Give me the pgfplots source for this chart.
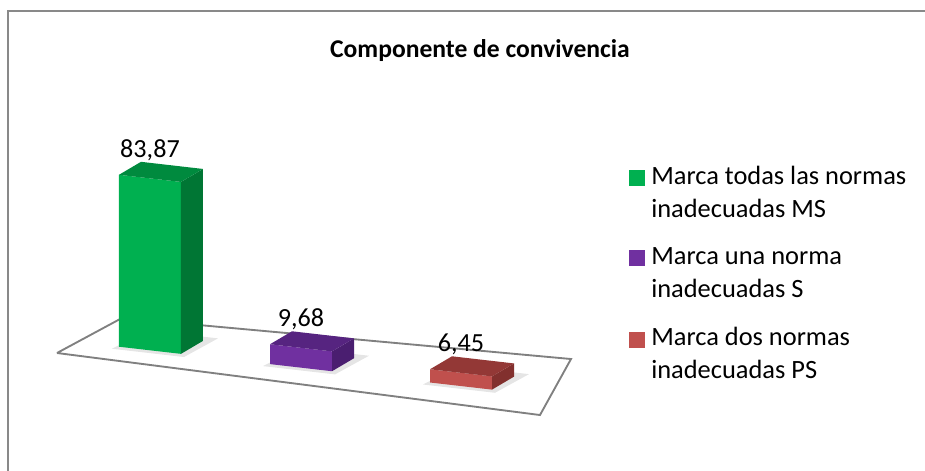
\documentclass[border=0pt]{standalone}
\usepackage{pgfplots}
\pgfplotsset{compat=1.18}
\usepackage{fontspec}
\setmainfont{Carlito}
\usetikzlibrary{calc}
\definecolor{gFront}{RGB}{0,176,80}
\definecolor{gTop}{RGB}{0,138,62}
\definecolor{gSide}{RGB}{0,118,52}
\definecolor{pFront}{RGB}{112,48,160}
\definecolor{pTop}{RGB}{86,36,128}
\definecolor{pSide}{RGB}{74,30,112}
\definecolor{rFront}{RGB}{192,80,77}
\definecolor{rTop}{RGB}{147,56,54}
\definecolor{rSide}{RGB}{130,48,46}
\definecolor{floorGray}{RGB}{128,128,128}
\definecolor{frameGray}{RGB}{137,137,137}
\begin{document}
\begin{tikzpicture}
\begin{axis}[
  x={(0.75pt,-0.08625pt)}, y={(0.75pt,0.4425pt)}, z={(0pt,1.5375pt)},
  xmin=0, xmax=500, ymin=-10, ymax=80, zmin=0, zmax=100,
  hide axis, clip=false,
  /pgf/number format/assume math mode=true,
  legend style={at={(axis description cs:0.980,0.802)}, anchor=north west,
    draw=none, fill=none, font=\fontsize{19.8}{24.75}\selectfont,
    cells={anchor=base west, align=left}, row sep=21pt, column sep=5pt,
    nodes={inner sep=0pt}},
  legend image code/.code={\fill[#1] (0pt,24pt) rectangle (11pt,35.25pt);},
]
% floor
\addplot3[draw=floorGray, line width=1.4pt, forget plot] coordinates {(0,0,0) (492.2,-9.2,0) (438.7,75.3,0) (4.75,60.25,0) (0,0,0)};
% soft shadows
\addplot3[fill=black, fill opacity=0.10, draw=none, forget plot] coordinates {(40,15,0) (112,15,0) (114,47,0) (44,47,0)};
\addplot3[fill=black, fill opacity=0.10, draw=none, forget plot] coordinates {(191,15,0) (263,15,0) (265,47,0) (195,47,0)};
\addplot3[fill=black, fill opacity=0.10, draw=none, forget plot] coordinates {(351,15,0) (423,15,0) (425,47,0) (355,47,0)};
% green bar (83.87)
\addplot3[fill=gFront, draw=none, forget plot] coordinates {(43,19,0) (105,19,0) (105,19,83.87) (43,19,83.87)};
\addplot3[fill=gSide, draw=none, forget plot] coordinates {(105,19,0) (105,41,0) (105,41,83.87) (105,19,83.87)};
\addplot3[fill=gTop, draw=none, forget plot] coordinates {(43,19,83.87) (105,19,83.87) (105,41,83.87) (43,41,83.87)};
% purple bar (9.68)
\addplot3[fill=pFront, draw=none, forget plot] coordinates {(194,19,0) (256,19,0) (256,19,9.68) (194,19,9.68)};
\addplot3[fill=pSide, draw=none, forget plot] coordinates {(256,19,0) (256,41,0) (256,41,9.68) (256,19,9.68)};
\addplot3[fill=pTop, draw=none, forget plot] coordinates {(194,19,9.68) (256,19,9.68) (256,41,9.68) (194,41,9.68)};
% red bar (6.45)
\addplot3[fill=rFront, draw=none, forget plot] coordinates {(354,19,0) (416,19,0) (416,19,6.45) (354,19,6.45)};
\addplot3[fill=rSide, draw=none, forget plot] coordinates {(416,19,0) (416,41,0) (416,41,6.45) (416,19,6.45)};
\addplot3[fill=rTop, draw=none, forget plot] coordinates {(354,19,6.45) (416,19,6.45) (416,41,6.45) (354,41,6.45)};
% value labels
\addplot3[draw=none, mark=none, forget plot, point meta=z,
  nodes near coords={\pgfmathprintnumber[use comma,fixed,fixed zerofill,precision=2]{\pgfplotspointmeta}},
  nodes near coords style={anchor=base, yshift=15.75pt, inner sep=0pt, font=\fontsize{19.6}{23}\selectfont, text=black}]
  coordinates {(74,19,83.87) (225,19,9.68) (385,19,6.45)};
\addlegendimage{gFront}
\addlegendentry{Marca todas las normas\\inadecuadas MS}
\addlegendimage{pFront}
\addlegendentry{Marca una norma\\inadecuadas S}
\addlegendimage{rFront}
\addlegendentry{Marca dos normas\\inadecuadas PS}
\coordinate (O) at (axis cs:0,0,0);
\end{axis}
\pgfresetboundingbox
\begin{scope}[shift={($(O)+(-42.75pt,264.75pt)$)}, x=0.75pt, y=-0.75pt]
  \path[use as bounding box] (0,0) rectangle (925,471);
  \fill[frameGray] (7,471) rectangle (9,10);
  \fill[frameGray] (7,10) rectangle (925,12);
  \node[anchor=base, inner sep=0pt, font=\fontsize{19.2}{23}\selectfont\bfseries] at (480,58) {Componente de convivencia};
\end{scope}
\end{tikzpicture}
\end{document}
